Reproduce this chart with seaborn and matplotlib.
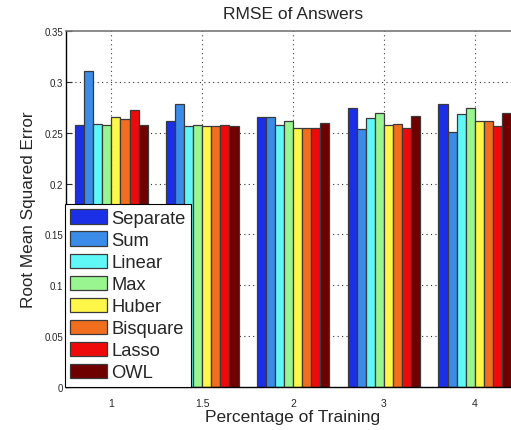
import matplotlib
matplotlib.use("Agg")
import matplotlib.pyplot as plt
import seaborn as sns
import pandas as pd

# Training percentages (categorical x positions)
training = ["1", "1.5", "2", "3", "4"]

# Methods compared
methods = ["Separate", "Sum", "Linear", "Max", "Huber", "Bisquare", "Lasso", "OWL"]

# RMSE per method, one entry per training percentage
rmse_separate = [0.2574, 0.2616, 0.2651, 0.2742, 0.2781]
rmse_sum      = [0.3104, 0.2781, 0.2651, 0.2535, 0.2510]
rmse_linear   = [0.2590, 0.2564, 0.2580, 0.2641, 0.2680]
rmse_max      = [0.2574, 0.2577, 0.2616, 0.2690, 0.2742]
rmse_huber    = [0.2655, 0.2561, 0.2548, 0.2577, 0.2612]
rmse_bisquare = [0.2636, 0.2561, 0.2548, 0.2590, 0.2612]
rmse_lasso    = [0.2723, 0.2580, 0.2542, 0.2551, 0.2570]
rmse_owl      = [0.2580, 0.2570, 0.2593, 0.2660, 0.2694]

colors = ["#1a2fe6", "#3b8be8", "#60f7f7", "#98f590", "#fff64a",
          "#f06e1e", "#ee0a0a", "#6e0000"]

series = [rmse_separate, rmse_sum, rmse_linear, rmse_max,
          rmse_huber, rmse_bisquare, rmse_lasso, rmse_owl]
rows = []
for m, vals in zip(methods, series):
    for t, v in zip(training, vals):
        rows.append({"Training": t, "Method": m, "RMSE": v})
df = pd.DataFrame(rows)

sns.set_style("white")
plt.rcParams["font.family"] = ["Liberation Sans", "DejaVu Sans"]

fig = plt.figure(figsize=(5.11, 4.31), dpi=100)
ax = fig.add_axes([0.129, 0.0998, 0.889, 0.826])

sns.barplot(data=df, x="Training", y="RMSE", hue="Method",
            order=training, hue_order=methods, palette=colors,
            saturation=1, width=0.8, edgecolor="#3a3a3a", linewidth=0.9,
            errorbar=None, ax=ax, zorder=2)

ax.set_ylim(0, 0.35)
ax.set_xlim(-0.5, len(training) - 0.5)
yt = [0, 0.05, 0.1, 0.15, 0.2, 0.25, 0.3, 0.35]
ax.set_yticks(yt)
ax.set_yticklabels(["0", "0.05", "0.1", "0.15", "0.2", "0.25", "0.3", "0.35"])
ax.tick_params(axis="y", direction="in", length=4, labelsize=7, pad=2, left=True)
ax.tick_params(axis="x", direction="in", length=0, labelsize=7.5, pad=8)

# dotted grid lines
for y in yt[1:-1]:
    ax.axhline(y, color="#333333", linestyle=(0, (1, 3)), linewidth=0.8, zorder=1)
for x in ax.get_xticks():
    ax.axvline(x, color="#444444", linestyle=(0, (1, 3)), linewidth=0.8, zorder=3)

for side in ["left", "bottom"]:
    ax.spines[side].set_color("black")
    ax.spines[side].set_linewidth(1.0)
ax.spines["top"].set_color("#777777")
ax.spines["top"].set_linewidth(1.2)
ax.spines["right"].set_visible(False)

ax.set_title("RMSE of Answers", fontsize=12.5, pad=9)
ax.set_xlabel("Percentage of Training", fontsize=12.5, labelpad=1)
ax.set_ylabel("Root Mean Squared Error", fontsize=12.3, labelpad=6)

leg = ax.legend(loc="lower left", bbox_to_anchor=(-0.003, 0.0), borderaxespad=0,
                fontsize=13.2, frameon=True, fancybox=False, framealpha=1,
                edgecolor="black", handlelength=2.0, handleheight=0.85,
                labelspacing=0.24, handletextpad=0.25, borderpad=0.3)
leg.get_frame().set_linewidth(0.8)
leg.set_zorder(5)

fig.savefig("out.png", dpi=100)
